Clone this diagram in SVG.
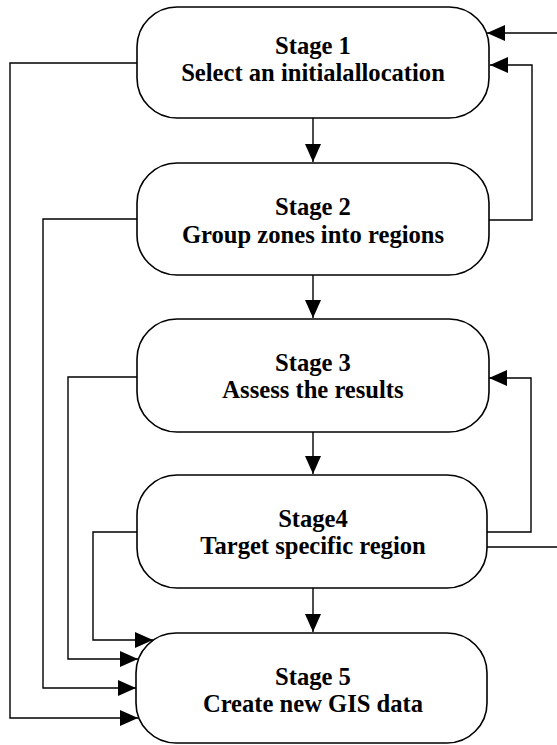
<svg xmlns="http://www.w3.org/2000/svg" width="557" height="745" viewBox="0 0 557 745">
  <style>
    .box { fill: #fff; stroke: #000; stroke-width: 1.6; }
    .lbl { font-family: "Liberation Serif", "Times New Roman", serif; font-weight: bold; font-size: 24.6px; fill: #000; text-anchor: middle; }
    .wire { fill: none; stroke: #000; stroke-width: 1.4; }
  </style>
  <defs>
    <marker id="arrow" markerUnits="userSpaceOnUse" markerWidth="19" markerHeight="17" refX="18" refY="8" orient="auto">
      <path d="M0,0 L18,8 L0,16 z" fill="#000"/>
    </marker>
  </defs>
  <rect width="557" height="745" fill="#fff"/>

  <g id="connectors">
    <!-- main downward flow -->
    <path class="wire" d="M313,118 V162" marker-end="url(#arrow)"/>
    <path class="wire" d="M313,275 V318" marker-end="url(#arrow)"/>
    <path class="wire" d="M313,432 V474" marker-end="url(#arrow)"/>
    <path class="wire" d="M313,588 V632" marker-end="url(#arrow)"/>

    <!-- left-hand bypasses into Stage 5 -->
    <path class="wire" d="M137,63 H10 V718 H138" marker-end="url(#arrow)"/>
    <path class="wire" d="M137,219 H43 V688 H136" marker-end="url(#arrow)"/>
    <path class="wire" d="M137,377 H68 V659 H138" marker-end="url(#arrow)"/>
    <path class="wire" d="M137,532 H93 V640 H153" marker-end="url(#arrow)"/>

    <!-- right-hand feedback loops -->
    <path class="wire" d="M557,33 H487" marker-end="url(#arrow)"/>
    <path class="wire" d="M489,220 H532 V65 H490" marker-end="url(#arrow)"/>
    <path class="wire" d="M487,532 H531 V378 H489" marker-end="url(#arrow)"/>
    <path class="wire" d="M487,547 H557"/>
  </g>

  <g id="stage1">
    <rect class="box" x="137" y="7" width="352" height="111" rx="40" ry="40"/>
    <text class="lbl" x="313" y="54">Stage 1</text>
    <text class="lbl" x="313" y="81">Select an initialallocation</text>
  </g>
  <g id="stage2">
    <rect class="box" x="137" y="163" width="352" height="112" rx="40" ry="40"/>
    <text class="lbl" x="313" y="215">Stage 2</text>
    <text class="lbl" x="313" y="243">Group zones into regions</text>
  </g>
  <g id="stage3">
    <rect class="box" x="137" y="319" width="352" height="113" rx="40" ry="40"/>
    <text class="lbl" x="313" y="371">Stage 3</text>
    <text class="lbl" x="313" y="398">Assess the results</text>
  </g>
  <g id="stage4">
    <rect class="box" x="137" y="475" width="350" height="113" rx="40" ry="40"/>
    <text class="lbl" x="313" y="527">Stage4</text>
    <text class="lbl" x="313" y="554">Target specific region</text>
  </g>
  <g id="stage5">
    <rect class="box" x="136" y="633" width="351" height="110" rx="40" ry="40"/>
    <text class="lbl" x="313" y="685">Stage 5</text>
    <text class="lbl" x="313" y="712">Create new GIS data</text>
  </g>
</svg>
